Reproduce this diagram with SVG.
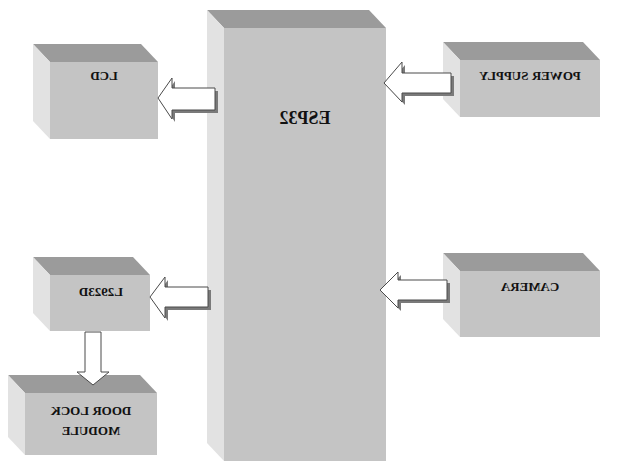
<svg xmlns="http://www.w3.org/2000/svg" width="621" height="476" viewBox="0 0 621 476">
<style>
.top{fill:#9b9b9b}
.side{fill:#e2e2e2}
.front{fill:#c4c4c4}
.lbl{font-family:"Liberation Serif","Times New Roman",serif;font-weight:bold;font-size:13px;fill:#111;text-anchor:middle}
.arr{fill:#fff;stroke:#4a4a4a;stroke-width:1}
.sh{fill:#7a7a7a}
</style>
<rect width="621" height="476" fill="#fff"/>
<g id="esp32">
<polygon class="top" points="207,10 369,10 386,28 224,28"/>
<polygon class="side" points="207,10 224,28 224,461 207,443"/>
<rect class="front" x="224" y="28" width="162" height="433"/>
<text class="lbl" style="font-size:18px" transform="translate(305,0) scale(-1,1)" x="0" y="124">ESP32</text>
</g>
<g id="lcd">
<polygon class="top" points="33,44 141,44 158,62 50,62"/>
<polygon class="side" points="33,44 50,62 50,139 33,121"/>
<rect class="front" x="50" y="62" width="108" height="77"/>
<text class="lbl" transform="translate(104,0) scale(-1,1)" x="0" y="80">LCD</text>
</g>
<g id="power">
<polygon class="top" points="443,42 583,42 600,60 460,60"/>
<polygon class="side" points="443,42 460,60 460,117 443,99"/>
<rect class="front" x="460" y="60" width="140" height="57"/>
<text class="lbl" transform="translate(530,0) scale(-1,1)" x="0" y="80">POWER SUPPLY</text>
</g>
<g id="camera">
<polygon class="top" points="443,253 583,253 600,271 460,271"/>
<polygon class="side" points="443,253 460,271 460,337 443,319"/>
<rect class="front" x="460" y="271" width="140" height="66"/>
<text class="lbl" transform="translate(530,0) scale(-1,1)" x="0" y="291">CAMERA</text>
</g>
<g id="l293d">
<polygon class="top" points="33,257 133,257 150,275 50,275"/>
<polygon class="side" points="33,257 50,275 50,331 33,313"/>
<rect class="front" x="50" y="275" width="100" height="56"/>
<text class="lbl" transform="translate(101,0) scale(-1,1)" x="0" y="296">L2923D</text>
</g>
<g id="doorlock">
<polygon class="top" points="8,375 140,375 157,393 25,393"/>
<polygon class="side" points="8,375 25,393 25,455 8,437"/>
<rect class="front" x="25" y="393" width="132" height="62"/>
<text class="lbl" transform="translate(91,0) scale(-1,1)" x="0" y="415">DOOR LOCK</text>
<text class="lbl" transform="translate(91,0) scale(-1,1)" x="0" y="435">MODULE</text>
</g>
<g id="connectors">
<g transform="translate(3,3)">
<polygon class="sh" points="158,98 172,78 172,88 215,88 215,110 172,110 172,119"/>
<polygon class="sh" points="384,83 402,62 402,73 451,73 451,93 402,93 402,102"/>
<polygon class="sh" points="380,290 398,272 398,280 447,280 447,300 398,300 398,308"/>
<polygon class="sh" points="150,297 165,277 165,287 208,287 208,307 165,307 165,318"/>
</g>
<polygon class="arr" points="158,98 172,78 172,88 215,88 215,110 172,110 172,119"/>
<polygon class="arr" points="384,83 402,62 402,73 451,73 451,93 402,93 402,102"/>
<polygon class="arr" points="380,290 398,272 398,280 447,280 447,300 398,300 398,308"/>
<polygon class="arr" points="150,297 165,277 165,287 208,287 208,307 165,307 165,318"/>
<polygon class="arr" points="85,332 101,332 101,372 109,372 93,385 77,372 85,372"/>
</g>
</svg>
